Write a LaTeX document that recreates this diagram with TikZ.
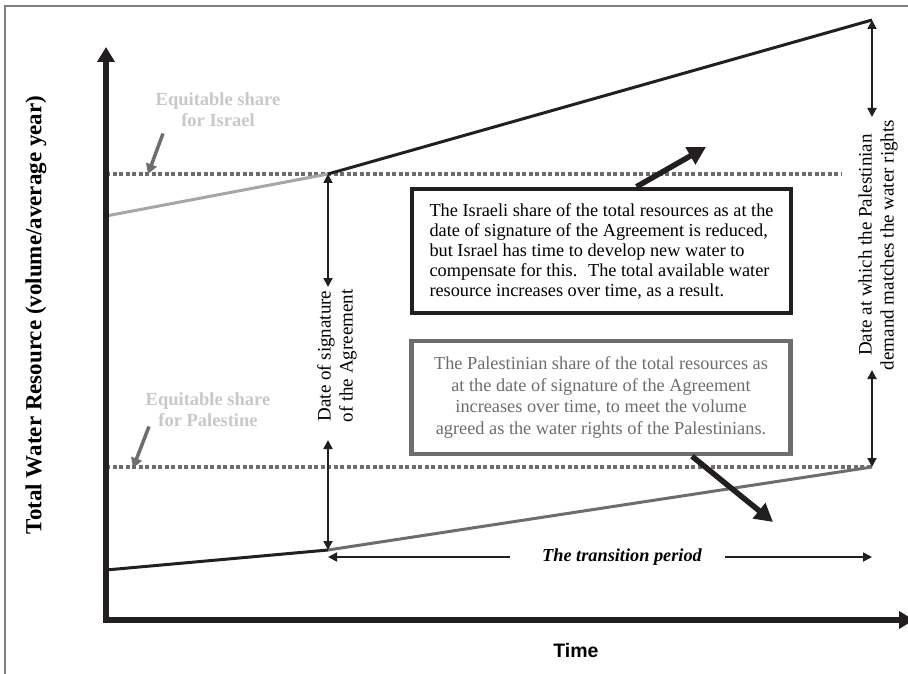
\documentclass[tikz,border=0pt]{standalone}
\usepackage{fontspec}
\setmainfont{Liberation Serif}
\setsansfont{Liberation Sans}
\usetikzlibrary{arrows.meta, positioning, calc}

\definecolor{inkdark}{HTML}{231F20}
\definecolor{inkgrey}{HTML}{6D6D6D}
\definecolor{inklight}{HTML}{A6A6A6}
\definecolor{inkpale}{HTML}{C8C8C8}
\definecolor{framegrey}{HTML}{808080}

\tikzset{
  axis/.style={line width=6pt, inkdark, line join=miter, {Triangle[length=15pt,width=17pt]}-{Triangle[length=15pt,width=17pt]}},
  share/.style={line width=3.5pt, inkgrey, dash pattern=on 4pt off 2.5pt},
  trend/.style={line width=3pt},
  span/.style={line width=1.8pt, inkdark, {Triangle[length=9pt,width=9pt]}-{Triangle[length=9pt,width=9pt]}},
  period/.style={line width=1.8pt, inkdark, -{Triangle[length=9pt,width=9pt]}},
  callout/.style={line width=5.5pt, inkdark, -{Triangle[length=18pt,width=19pt]}},
  pointer/.style={line width=3.5pt, inkgrey, -{Triangle[length=10pt,width=11pt]}},
  eqlabel/.style={inkpale, font=\fontsize{18.5}{21}\selectfont\bfseries, align=center},
  note/.style={line width=4.5pt, fill=white, minimum width=379pt, inner sep=0pt, font=\fontsize{18.3}{20}\selectfont},
  vlabel/.style={rotate=90, align=center, font=\fontsize{19}{22}\selectfont}
}

\begin{document}
\begin{tikzpicture}[x=1pt, y=-1pt]
\useasboundingbox (0,0) rectangle (908,674);
\draw[framegrey, line width=1.5pt] (5,674) -- (5,6) -- (908,6);

% key points of the two shares
\coordinate (O) at (106,620);
\coordinate (yTop) at (106,47);
\coordinate (xEnd) at (914,620);
\coordinate (isrStart) at (106,216);
\coordinate (isrSign) at (328,174);
\coordinate (isrEnd) at (872,20);
\coordinate (palStart) at (106,570);
\coordinate (palSign) at (328,550);
\coordinate (palEnd) at (872,467);
\coordinate (isrShareL) at (106,174);
\coordinate (isrShareR) at (842,174);
\coordinate (palShareL) at (106,467);

\draw[share] (isrShareL) -- (isrShareR);
\draw[share] (palShareL) -- (palEnd);

\draw[trend, inklight] (isrStart) -- (isrSign);
\draw[trend, inkdark] (isrSign) -- (isrEnd);
\draw[trend, inkdark] (palStart) -- (palSign);
\draw[trend, inkgrey] (palSign) -- (palEnd);

\draw[axis] (yTop) -- (O) -- (xEnd);

\node (yLabel) [rotate=90, font=\fontsize{23}{26}\selectfont\bfseries] at (36,315) {Total Water Resource (volume/average year)};
\node (timeLabel) [font=\fontsize{19.5}{22}\selectfont\sffamily\bfseries] at (576,651) {Time};

% equitable shares
\node (isrEq) [eqlabel] at (218,110) {Equitable share\\for Israel};
\node (palEq) [eqlabel] at (208,410) {Equitable share\\for Palestine};
\coordinate (isrEqHit) at (148,174);
\coordinate (palEqHit) at (133,468);
\draw[pointer] ($(isrEq.south)+(-55,3)$) -- (isrEqHit);
\draw[pointer] ($(palEq.south)+(-59,-4)$) -- (palEqHit);

% signature date
\node (signLabel) [vlabel] at (337,356) {Date of signature\\of the Agreement};
\coordinate (signTop) at (328,287);
\coordinate (signBot) at (328,440);
\draw[span] (isrSign) -- (signTop);
\draw[span] (signBot) -- (palSign);

% date the demand meets the rights
\node (matchLabel) [vlabel] at (878,245) {Date at which the Palestinian\\demand matches the water rights};
\coordinate (matchTop) at (872,117);
\coordinate (matchBot) at (872,370);
\draw[span] (isrEnd) -- (matchTop);
\draw[span] (matchBot) -- (palEnd);

% transition period
\node (transLabel) [font=\fontsize{18.3}{21}\selectfont\bfseries\itshape] at (622,557) {The transition period};
\draw[period] ([xshift=-29pt]transLabel.west) -- (palSign |- transLabel.west);
\draw[period] ([xshift=20pt]transLabel.east) -- (palEnd |- transLabel.east);

% notes
\node (isrNote) [note, draw=inkdark, minimum height=124pt, align=left] at (601.5,251) {The Israeli share of the total resources as at the\\date of signature of the Agreement is reduced,\\but Israel has time to develop new water to\\compensate for this.~ The total available water\\resource increases over time, as a result.};
\node (palNote) [note, draw=inkgrey, text=inkgrey, minimum height=113pt, align=center, font=\fontsize{18.3}{21.5}\selectfont] at (601,397.5) {The Palestinian share of the total resources as\\at the date of signature of the Agreement\\increases over time, to meet the volume\\agreed as the water rights of the Palestinians.};
\coordinate (isrTip) at (706,147);
\coordinate (palTip) at (773,522);
\draw[callout] ([xshift=35pt]isrNote.north) -- (isrTip);
\draw[callout] ([xshift=91pt]palNote.south) -- (palTip);
\end{tikzpicture}
\end{document}
